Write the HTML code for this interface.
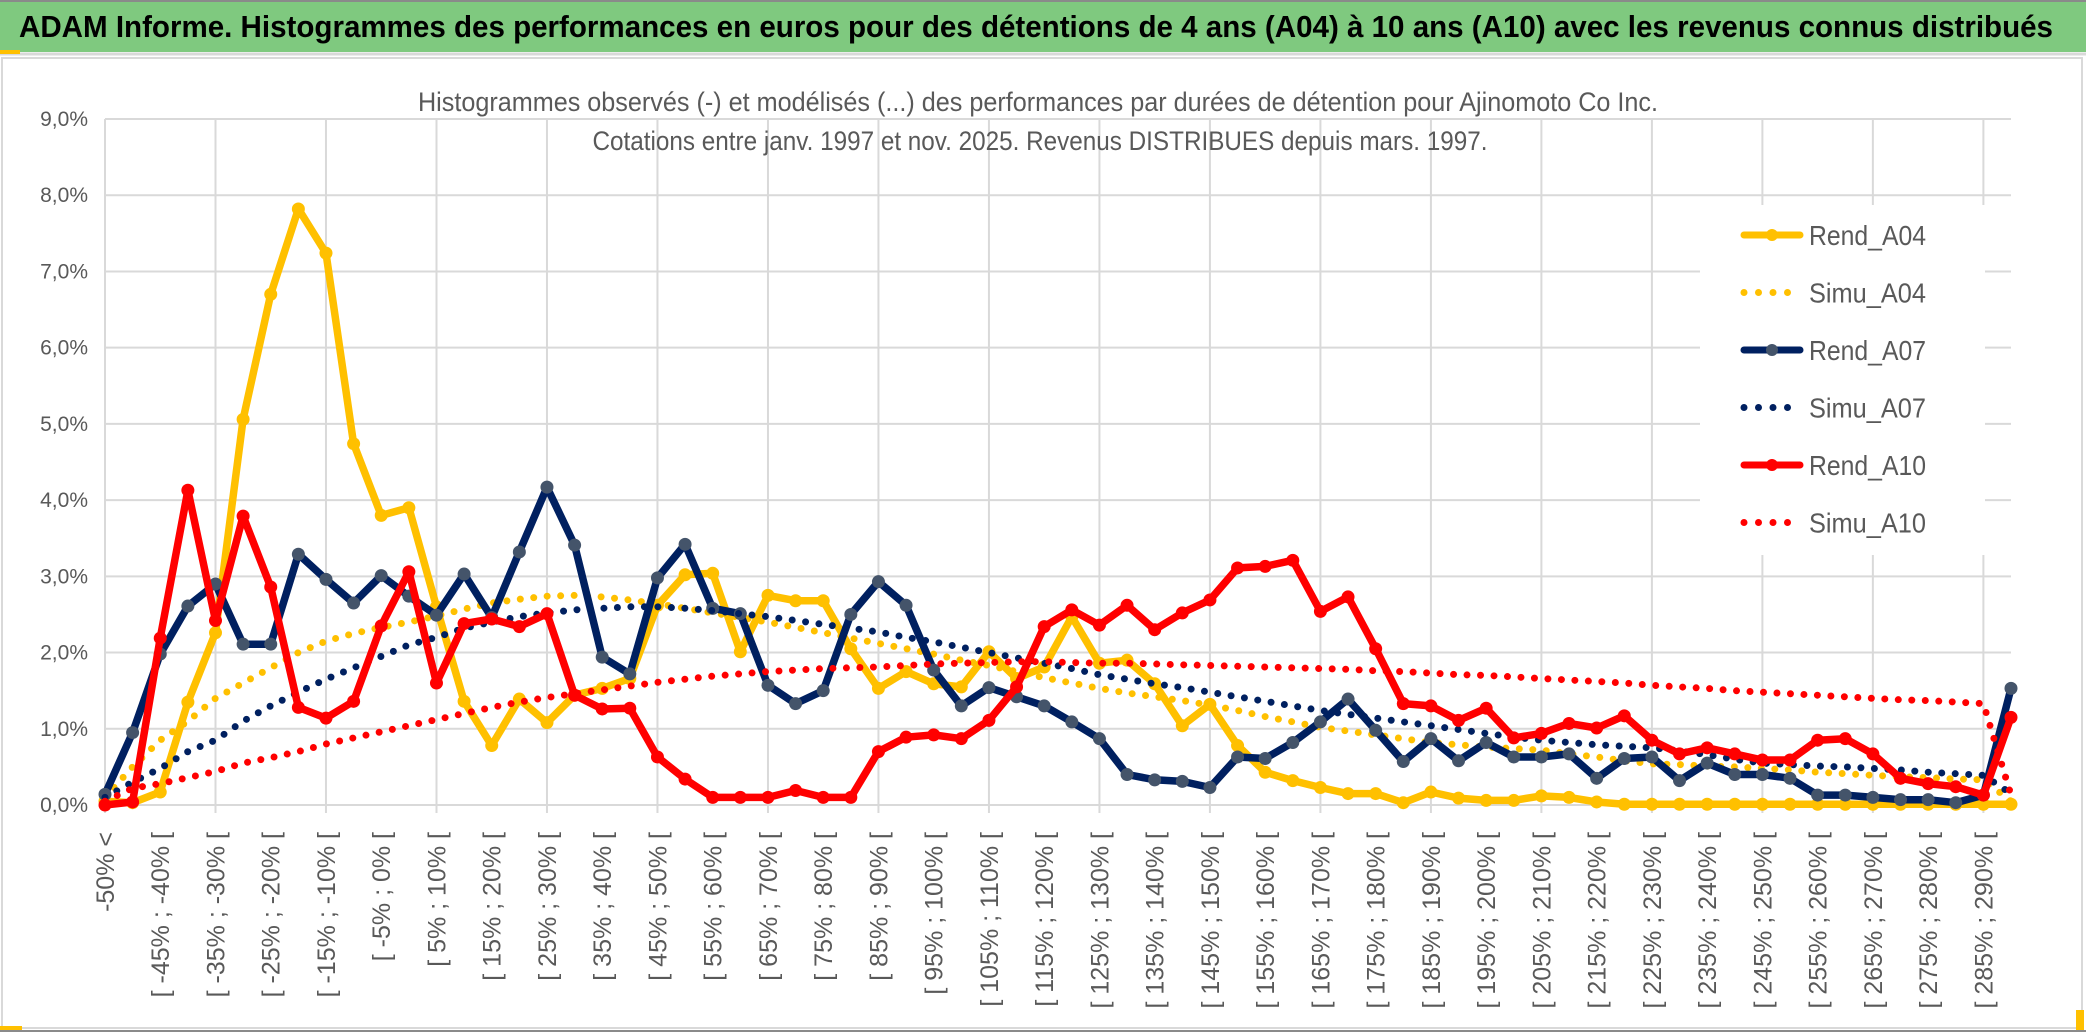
<!DOCTYPE html>
<html><head><meta charset="utf-8"><style>
html,body{margin:0;padding:0;background:#fff;}
svg{display:block;}
text{font-family:"Liberation Sans",Arial,sans-serif;}
</style></head><body>
<svg id="chart" width="2086" height="1033" viewBox="0 0 2086 1033" xmlns="http://www.w3.org/2000/svg">
<rect x="0" y="0" width="2086" height="1033" fill="#ffffff"/>
<rect x="0" y="0" width="2086" height="52" fill="#7fc97f"/>
<line x1="0" y1="1" x2="2086" y2="1" stroke="#8a8a8a" stroke-width="2"/>
<line x1="0" y1="54" x2="2086" y2="54" stroke="#d9d9d9" stroke-width="3"/>
<rect x="0" y="50" width="20" height="4" fill="#ffc000"/>
<text x="19" y="37" font-size="31" font-weight="bold" fill="#000" textLength="2034" lengthAdjust="spacingAndGlyphs">ADAM Informe. Histogrammes des performances en euros pour des détentions de 4 ans (A04) à 10 ans (A10) avec les revenus connus distribués</text>
<rect x="2" y="58" width="2080" height="970" fill="none" stroke="#d9d9d9" stroke-width="2"/>
<rect x="0" y="1026" width="22" height="5" fill="#ffc000"/>
<rect x="2076" y="1010" width="8" height="20" fill="#ffc000"/>
<line x1="0" y1="1031" x2="2086" y2="1031" stroke="#8a8a8a" stroke-width="2"/>
<g id="grid"></g>
<g id="yaxis"></g>
<g id="xaxis"></g>
<g id="series"></g>
<rect x="1700" y="205" width="285" height="350" fill="#ffffff"/>
<g id="legend"></g>
<text x="1038" y="111" font-size="27" fill="#595959" text-anchor="middle" textLength="1240" lengthAdjust="spacingAndGlyphs">Histogrammes observés (-) et modélisés (...) des performances par durées de détention pour Ajinomoto Co Inc.</text>
<text x="1040" y="150" font-size="27" fill="#595959" text-anchor="middle" textLength="895" lengthAdjust="spacingAndGlyphs">Cotations entre janv. 1997 et nov. 2025. Revenus DISTRIBUES depuis mars. 1997.</text>
</svg>
<script>
const categories = [];
categories.push("-50% <");
for (let a = -50; a < 290; a += 5) { categories.push("[ " + a + "% ; " + (a + 5) + "% ["); }
categories.push("> 290%");
const yTicks = [0,1,2,3,4,5,6,7,8,9];
const yTickLabels = ["0,0%","1,0%","2,0%","3,0%","4,0%","5,0%","6,0%","7,0%","8,0%","9,0%"];
const rendA04 = [0.05,0.03,0.17,1.35,2.26,5.06,6.7,7.82,7.24,4.74,3.8,3.9,2.6,1.36,0.78,1.39,1.08,1.44,1.53,1.66,2.62,3.02,3.04,2.01,2.75,2.68,2.68,2.05,1.53,1.75,1.59,1.55,2.01,1.66,1.81,2.47,1.86,1.9,1.59,1.04,1.32,0.78,0.43,0.32,0.23,0.15,0.15,0.03,0.17,0.09,0.06,0.06,0.12,0.1,0.04,0.01,0.01,0.01,0.01,0.01,0.01,0.01,0.01,0.01,0.01,0.01,0.01,0.01,0.01,0.01];
const simuA04 = [0.1,0.5,0.85,1.1,1.4,1.6,1.8,2.0,2.15,2.25,2.33,2.4,2.48,2.57,2.65,2.7,2.74,2.75,2.73,2.69,2.64,2.58,2.52,2.46,2.4,2.33,2.26,2.19,2.12,2.05,1.98,1.9,1.83,1.75,1.67,1.6,1.53,1.47,1.42,1.37,1.31,1.24,1.16,1.09,1.02,0.97,0.92,0.87,0.82,0.79,0.76,0.74,0.72,0.67,0.63,0.58,0.54,0.53,0.51,0.5,0.48,0.46,0.43,0.41,0.39,0.37,0.36,0.34,0.33,0.05];
const rendA07 = [0.14,0.95,1.98,2.61,2.9,2.11,2.11,3.29,2.96,2.65,3.01,2.74,2.49,3.03,2.46,3.32,4.17,3.41,1.94,1.72,2.98,3.42,2.58,2.51,1.57,1.33,1.5,2.5,2.93,2.62,1.77,1.3,1.54,1.42,1.3,1.09,0.87,0.4,0.33,0.31,0.23,0.63,0.61,0.82,1.09,1.39,0.98,0.57,0.87,0.58,0.82,0.63,0.63,0.67,0.35,0.61,0.63,0.32,0.55,0.4,0.4,0.35,0.13,0.13,0.1,0.07,0.07,0.03,0.13,1.53];
const simuA07 = [0.1,0.3,0.48,0.7,0.85,1.1,1.3,1.48,1.65,1.8,1.95,2.1,2.2,2.32,2.4,2.47,2.52,2.56,2.58,2.6,2.6,2.58,2.55,2.51,2.47,2.42,2.37,2.32,2.27,2.2,2.14,2.07,2.0,1.93,1.86,1.79,1.71,1.65,1.59,1.54,1.48,1.42,1.36,1.3,1.24,1.19,1.14,1.09,1.04,0.99,0.94,0.89,0.85,0.82,0.79,0.77,0.75,0.71,0.66,0.6,0.55,0.53,0.51,0.5,0.48,0.46,0.43,0.41,0.39,0.15];
const rendA10 = [0.0,0.04,2.19,4.13,2.42,3.79,2.86,1.28,1.14,1.36,2.35,3.06,1.6,2.38,2.44,2.34,2.51,1.44,1.26,1.27,0.63,0.34,0.1,0.1,0.1,0.19,0.1,0.1,0.7,0.89,0.92,0.87,1.11,1.55,2.34,2.56,2.36,2.62,2.3,2.52,2.69,3.11,3.13,3.21,2.54,2.73,2.05,1.33,1.3,1.11,1.27,0.88,0.94,1.07,1.01,1.17,0.85,0.67,0.75,0.67,0.59,0.59,0.85,0.87,0.67,0.35,0.28,0.24,0.13,1.15];
const simuA10 = [0.05,0.22,0.28,0.36,0.44,0.55,0.62,0.7,0.8,0.88,0.96,1.04,1.12,1.2,1.28,1.35,1.41,1.46,1.51,1.56,1.61,1.65,1.69,1.72,1.75,1.77,1.79,1.8,1.81,1.83,1.85,1.86,1.87,1.88,1.88,1.87,1.86,1.86,1.85,1.84,1.83,1.82,1.81,1.8,1.79,1.78,1.76,1.75,1.73,1.71,1.7,1.68,1.66,1.64,1.62,1.6,1.57,1.55,1.53,1.5,1.48,1.46,1.44,1.42,1.4,1.38,1.37,1.35,1.33,0.13];

const NS = "http://www.w3.org/2000/svg";
const X0 = 105, X1 = 2011, Y0 = 805, YTOP = 119;
function xPos(i){ return X0 + i * (X1 - X0) / (categories.length - 1); }
function yPos(v){ return Y0 - v * (Y0 - YTOP) / 9; }
function mk(tag, attrs, parent){ const e = document.createElementNS(NS, tag); for (const k in attrs) e.setAttribute(k, attrs[k]); parent.appendChild(e); return e; }

const grid = document.getElementById("grid");
yTicks.forEach(function(t){
  const l = mk("line", {x1: X0, x2: X1, y1: yPos(t), y2: yPos(t), stroke: "#d9d9d9", "stroke-width": 2}, grid);
  
  
});
for (let i = 0; i < categories.length; i += 4) {
  const l = mk("line", {x1: xPos(i), x2: xPos(i), y1: YTOP, y2: Y0 + 8, stroke: "#d9d9d9", "stroke-width": 2}, grid);
  
  
}
const yaxis = document.getElementById("yaxis");
yTicks.forEach(function(t, k){
  const tx = mk("text", {x: 88, y: yPos(t) + 7, "font-size": 21, fill: "#595959", "text-anchor": "end"}, yaxis);
  tx.textContent = yTickLabels[k];
  
  
});
const xaxis = document.getElementById("xaxis");
categories.forEach(function(c, i){
  if (i % 2 !== 0) return;
  const x = xPos(i) + 9, y = 832;
  const tx = mk("text", {x: x, y: y, "font-size": 25, fill: "#595959", "text-anchor": "end", transform: "rotate(-90 " + x + " " + y + ")"}, xaxis);
  tx.textContent = c;
  
  
});

const series = document.getElementById("series");
function pts(arr){ return arr.map(function(v, i){ return xPos(i).toFixed(1) + "," + yPos(v).toFixed(1); }).join(" "); }
function drawRend(arr, color, marker, name){
  const g = mk("g", {}, series);
  
  
  const pl = mk("polyline", {points: pts(arr), fill: "none", stroke: color, "stroke-width": 7.5, "stroke-linejoin": "round", "stroke-linecap": "round"}, g);
  
  
  arr.forEach(function(v, i){
    const c = mk("circle", {cx: xPos(i), cy: yPos(v), r: 6.5, fill: marker}, g);
    
    
  });
}
function drawSimu(arr, color, name){
  const pl = mk("polyline", {points: pts(arr), fill: "none", stroke: color, "stroke-width": 7, "stroke-linecap": "round", "stroke-dasharray": "0 13.5"}, series);
  
  
}
drawRend(rendA04, "#ffc000", "#ffc000", "rend-a04");
drawSimu(simuA04, "#ffc000", "simu-a04");
drawRend(rendA07, "#002060", "#44546a", "rend-a07");
drawSimu(simuA07, "#002060", "simu-a07");
drawRend(rendA10, "#ff0000", "#ff0000", "rend-a10");
drawSimu(simuA10, "#ff0000", "simu-a10");

const legendNames = ["Rend_A04","Simu_A04","Rend_A07","Simu_A07","Rend_A10","Simu_A10"];
const legendColors = ["#ffc000","#ffc000","#002060","#002060","#ff0000","#ff0000"];
const legendMarkers = ["#ffc000","","#44546a","","#ff0000",""];
const legend = document.getElementById("legend");
legendNames.forEach(function(n, k){
  const y = 235 + k * 57.5;
  const g = mk("g", {}, legend);
  
  
  if (legendMarkers[k]) {
    mk("line", {x1: 1744, x2: 1800, y1: y, y2: y, stroke: legendColors[k], "stroke-width": 7, "stroke-linecap": "round"}, g);
    mk("circle", {cx: 1772, cy: y, r: 6, fill: legendMarkers[k]}, g);
  } else {
    mk("line", {x1: 1744, x2: 1800, y1: y, y2: y, stroke: legendColors[k], "stroke-width": 7, "stroke-linecap": "round", "stroke-dasharray": "0 14.5"}, g);
  }
  const tx = mk("text", {x: 1809, y: y + 10, "font-size": 28, fill: "#595959", textLength: 117, lengthAdjust: "spacingAndGlyphs"}, g);
  tx.textContent = n;
});
</script>
</body></html>
